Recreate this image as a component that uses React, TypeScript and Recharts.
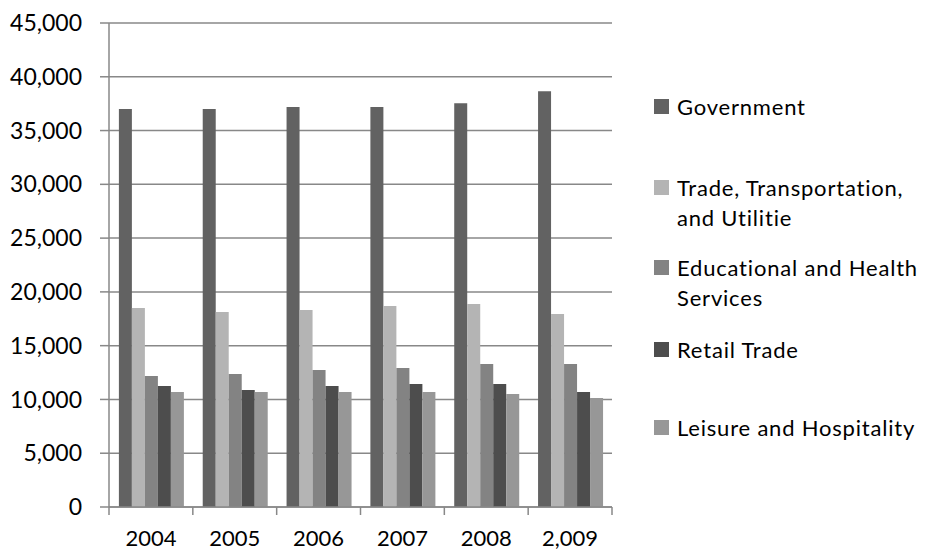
import React from "react"
import { BarChart, Bar, XAxis, YAxis, CartesianGrid } from "recharts"

const years = ["2004", "2005", "2006", "2007", "2008", "2,009"]

const government = [37000, 37000, 37200, 37200, 37550, 38650]
const tradeTransportation = [18500, 18120, 18310, 18680, 18870, 17940]
const eduHealth = [12170, 12360, 12730, 12920, 13290, 13290]
const retailTrade = [11250, 10870, 11250, 11430, 11430, 10690]
const leisureHospitality = [10690, 10690, 10690, 10690, 10500, 10130]

const yTicks = [0, 5000, 10000, 15000, 20000, 25000, 30000, 35000, 40000, 45000]

const series = [
  { key: "government", name: "Government", color: "#626262" },
  { key: "trade", name: "Trade, Transportation, and Utilitie", color: "#b4b4b4" },
  { key: "edu", name: "Educational and Health Services", color: "#838383" },
  { key: "retail", name: "Retail Trade", color: "#4d4d4d" },
  { key: "leisure", name: "Leisure and Hospitality", color: "#979797" },
]

const data = years.map((year, i) => ({
  year,
  government: government[i],
  trade: tradeTransportation[i],
  edu: eduHealth[i],
  retail: retailTrade[i],
  leisure: leisureHospitality[i],
}))

const W = 930
const H = 551
const PLOT_LEFT = 109
const PLOT_RIGHT = 612
const PLOT_TOP = 23
const PLOT_BOTTOM = 507
const BAND = (PLOT_RIGHT - PLOT_LEFT) / years.length
const GRID = "#888888"
const FONT = "Lato, 'Open Sans', sans-serif"

// first-line centre of each legend entry (Excel spaces them unevenly)
const legendRowCenters = [107, 188, 268, 350, 428]

const XTick = ({ x, y, payload, index }: any) => {
  const left = x - BAND / 2
  const right = x + BAND / 2
  return (
    <g>
      <line x1={left} y1={y} x2={left} y2={y + 8} stroke={GRID} strokeWidth={1.5} />
      {index === years.length - 1 && (
        <line x1={right} y1={y} x2={right} y2={y + 8} stroke={GRID} strokeWidth={1.5} />
      )}
      <text x={x} y={y + 39} textAnchor="middle" fill="#000" fontSize={22} fontFamily={FONT}>
        {payload.value}
      </text>
    </g>
  )
}

const LegendBox = () => (
  <div style={{ position: "absolute", left: 654, top: 0, width: W - 654, height: H, fontFamily: FONT }}>
    {series.map((s, i) => (
      <div
        key={s.key}
        style={{
          position: "absolute",
          left: 0,
          top: legendRowCenters[i] - 15,
          display: "flex",
          alignItems: "flex-start",
        }}
      >
        <div style={{ width: 15, height: 15, marginTop: 7, background: s.color, flexShrink: 0 }} />
        <div
          style={{
            marginLeft: 8,
            width: 252,
            fontSize: 22,
            lineHeight: "30px",
            letterSpacing: 0.8,
            color: "#000",
            textAlign: "left",
          }}
        >
          {s.name}
        </div>
      </div>
    ))}
  </div>
)

export default function App() {
  return (
    <div style={{ position: "absolute", left: 0, top: 0, width: W, height: H, background: "#fff" }}>
      <BarChart
        width={W}
        height={H}
        data={data}
        margin={{ top: PLOT_TOP, right: W - PLOT_RIGHT, left: 0, bottom: 0 }}
        barCategoryGap="11.8%"
        barGap={0}
      >
        <CartesianGrid vertical={false} stroke={GRID} strokeWidth={1.5} />
        <XAxis
          dataKey="year"
          height={H - PLOT_BOTTOM}
          axisLine={{ stroke: GRID, strokeWidth: 1.5 }}
          tickLine={false}
          tickSize={0}
          tickMargin={0}
          interval={0}
          tick={<XTick />}
        />
        <YAxis
          width={PLOT_LEFT}
          domain={[0, 45000]}
          ticks={yTicks}
          interval={0}
          axisLine={{ stroke: GRID, strokeWidth: 1.5 }}
          tickLine={{ stroke: GRID, strokeWidth: 1.5 }}
          tickSize={9}
          tickMargin={18}
          tickFormatter={(v: number) => v.toLocaleString("en-US")}
          tick={{ fill: "#000", fontSize: 23, fontFamily: FONT }}
        />
        {series.map((s) => (
          <Bar key={s.key} dataKey={s.key} name={s.name} fill={s.color} isAnimationActive={false} />
        ))}
      </BarChart>
      <LegendBox />
    </div>
  )
}
